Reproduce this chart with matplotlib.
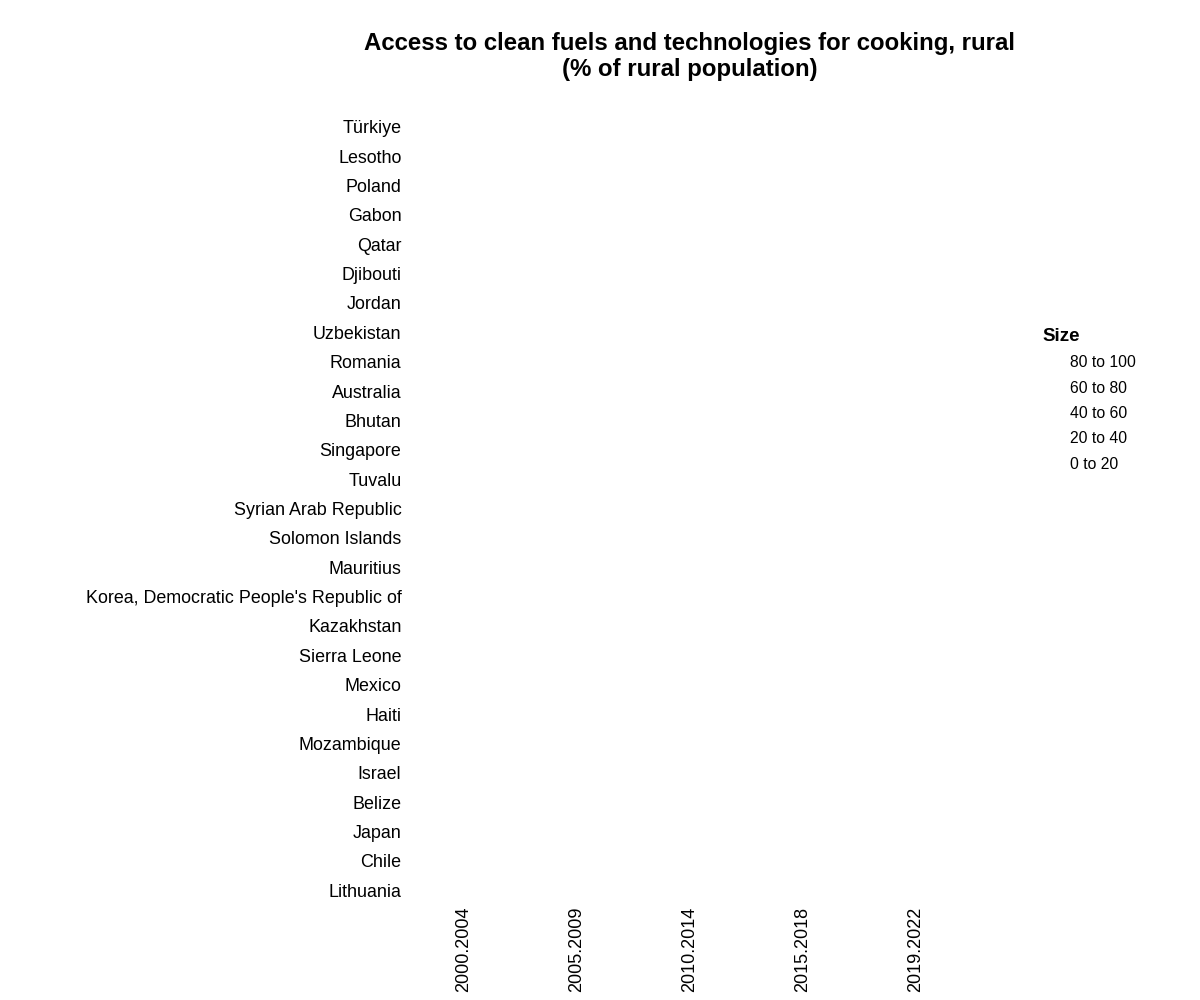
import matplotlib
matplotlib.use("Agg")
import matplotlib.pyplot as plt
from matplotlib.lines import Line2D

plt.rcParams['font.family'] = ['Liberation Sans', 'DejaVu Sans']

# countries, top to bottom as shown
countries = ["Türkiye", "Lesotho", "Poland", "Gabon", "Qatar", "Djibouti", "Jordan",
             "Uzbekistan", "Romania", "Australia", "Bhutan", "Singapore", "Tuvalu",
             "Syrian Arab Republic", "Solomon Islands", "Mauritius",
             "Korea, Democratic People's Republic of", "Kazakhstan", "Sierra Leone",
             "Mexico", "Haiti", "Mozambique", "Israel", "Belize", "Japan", "Chile",
             "Lithuania"]
periods = ["2000.2004", "2005.2009", "2010.2014", "2015.2018", "2019.2022"]
size_bins = ["80 to 100", "60 to 80", "40 to 60", "20 to 40", "0 to 20"]

fig = plt.figure(figsize=(12, 10), dpi=100)
ax = fig.add_axes([407 / 1200, 95 / 1000, 565 / 1200, 793 / 1000])

# no bubbles are visible in the picture, only the frame of the chart
ax.set_xlim(-0.5, len(periods) - 0.5)
ax.set_ylim(-0.5, len(countries) - 0.5)
ax.set_xticks(range(len(periods)))
ax.set_xticklabels(periods, rotation=90, fontsize=13)
ax.set_yticks(range(len(countries)))
ax.set_yticklabels(countries[::-1], fontsize=12.9)
ax.tick_params(axis="y", length=0, pad=4)
ax.tick_params(axis="x", length=0, pad=1)
for s in ax.spines.values():
    s.set_visible(False)

fig.text(690 / 1200, 1 - 56.5 / 1000,
         "Access to clean fuels and technologies for cooking, rural\n(% of rural population)",
         ha="center", va="center", fontsize=17.3, fontweight="bold", linespacing=1.15)

handles = [Line2D([], [], linestyle="none", marker="") for _ in size_bins]
leg = fig.legend(handles, size_bins, title="Size", loc="upper left",
                 bbox_to_anchor=(1042 / 1200, 1 - 328 / 1000), frameon=False,
                 fontsize=11.3, title_fontproperties={"weight": "bold", "size": 13.5},
                 handlelength=1.0, handletextpad=0.8, labelspacing=0.66,
                 borderpad=0, borderaxespad=0)
leg._legend_box.align = "left"

fig.savefig("out.png", dpi=100, facecolor="white")
